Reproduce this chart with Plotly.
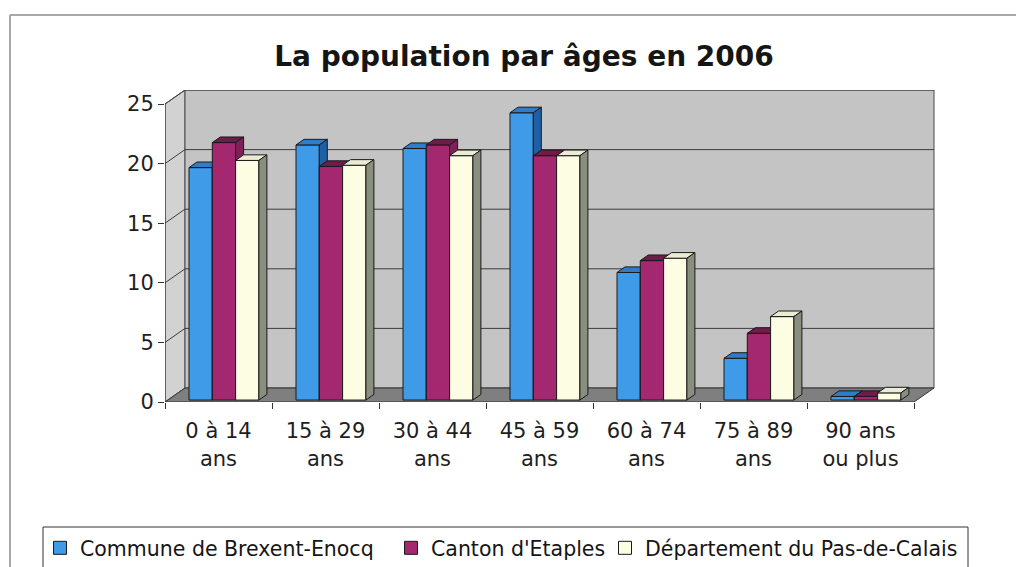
import plotly.graph_objects as go

# ---- data -------------------------------------------------------------
categories = [
    "0 à 14<br>ans", "15 à 29<br>ans", "30 à 44<br>ans", "45 à 59<br>ans",
    "60 à 74<br>ans", "75 à 89<br>ans", "90 ans<br>ou plus",
]
series_names = [
    "Commune de Brexent-Enocq",
    "Canton d'Etaples",
    "Département du Pas-de-Calais",
]
commune = [19.5, 21.4, 21.1, 24.1, 10.7, 3.5, 0.3]
canton = [21.6, 19.6, 21.4, 20.5, 11.7, 5.6, 0.3]
departement = [20.1, 19.7, 20.5, 20.5, 11.9, 7.0, 0.6]
y_tick_values = [0, 5, 10, 15, 20, 25]

# ---- pseudo-3D geometry (screen pixels -> data units) ------------------
W, H = 1016, 567
M_L, M_R, M_T, M_B = 165, 80, 90, 165
PLOT_W = W - M_L - M_R
PLOT_H = H - M_T - M_B
PX_PER_CAT = 107.0
PX_PER_UNIT = 11.92
DX = 20 / PX_PER_CAT       # wall depth, x units
DY = 14 / PX_PER_UNIT      # wall depth, y units
Y_TOP = 25

n = len(categories)
X0, X1 = -0.5, n - 0.5

BAR_OFF = 24 / PX_PER_CAT
BAR_W = 23.3 / PX_PER_CAT
BAR_D0 = 0.14              # front face depth (fraction of wall depth)
BAR_DEPTH = 0.40           # bar depth (fraction of wall depth)

FONT = "DejaVu Sans"

palettes = [
    dict(front="#3f9be8", top="#2f7cc8", side="#1f5fa6"),
    dict(front="#a3286f", top="#701c4b", side="#7f2058"),
    dict(front="#fdfde4", top="#ececd4", side="#8a8e7e"),
]
values = [commune, canton, departement]


def poly(xs, ys, fill, line="#1a1a1a", width=1):
    return go.Scatter(
        x=list(xs) + [xs[0]], y=list(ys) + [ys[0]],
        mode="lines", fill="toself", fillcolor=fill,
        line=dict(color=line, width=width),
        hoverinfo="skip", showlegend=False,
    )


def px_to_paper(px, py):
    return (px - M_L) / PLOT_W, (H - M_B - py) / PLOT_H


fig = go.Figure()

# left wall, back wall and floor
fig.add_trace(poly([X0, X0, X0 + DX, X0 + DX], [0, Y_TOP, Y_TOP + DY, DY],
                   "#d2d2d2", "#4a4a4a"))
fig.add_trace(poly([X0 + DX, X1 + DX, X1 + DX, X0 + DX],
                   [DY, DY, Y_TOP + DY, Y_TOP + DY], "#c4c4c4", "#4a4a4a"))
fig.add_trace(poly([X0, X1, X1 + DX, X0 + DX], [0, 0, DY, DY],
                   "#7f7f7f", "#333333"))

# gridlines on the left and back walls
gx, gy = [], []
for v in y_tick_values[1:]:
    gx += [X0, X0 + DX, X1 + DX, None]
    gy += [v, v + DY, v + DY, None]
fig.add_trace(go.Scatter(x=gx, y=gy, mode="lines",
                         line=dict(color="#3c3c3c", width=1),
                         hoverinfo="skip", showlegend=False))

# front value axis
fig.add_trace(go.Scatter(x=[X0, X0], y=[0, Y_TOP], mode="lines",
                         line=dict(color="#333333", width=1),
                         hoverinfo="skip", showlegend=False))

# columns: front, top and side faces, painted left to right
ddx = BAR_DEPTH * DX
ddy = BAR_DEPTH * DY
base = BAR_D0 * DY
for i in range(n):
    for s, (vals, pal) in enumerate(zip(values, palettes)):
        v = vals[i]
        xl = i - 0.5 + BAR_OFF + s * BAR_W
        xr = xl + BAR_W
        top = base + v
        fig.add_trace(poly([xl, xr, xr, xl], [base, base, top, top], pal["front"]))
        fig.add_trace(poly([xl, xr, xr + ddx, xl + ddx],
                           [top, top, top + ddy, top + ddy], pal["top"]))
        fig.add_trace(poly([xr, xr + ddx, xr + ddx, xr],
                           [base, base + ddy, top + ddy, top], pal["side"]))

# one legend per series, laid out in a single row inside a shared box
legend_text_x = [77, 428, 642]
legend_ids = ["legend", "legend2", "legend3"]
legend_layouts = {}
for name, pal, lid, tx in zip(series_names, palettes, legend_ids, legend_text_x):
    fig.add_trace(go.Scatter(
        x=[None], y=[None], mode="markers", name=name, legend=lid,
        marker=dict(symbol="square", size=13, color=pal["front"],
                    line=dict(color="#1a1a1a", width=1)),
    ))
    lx, ly = px_to_paper(tx - 37, 548)
    legend_layouts[lid] = dict(
        orientation="h", xref="paper", yref="paper",
        x=lx, xanchor="left", y=ly, yanchor="middle",
        borderwidth=0, bgcolor="rgba(0,0,0,0)",
        font=dict(family=FONT, size=20.5, color="#151515"),
        itemwidth=30, itemclick=False, itemdoubleclick=False,
    )

# thin frame along the top and left edges, and the legend box
fx0, fy0 = px_to_paper(10, 15)
fx1, _ = px_to_paper(W, 15)
_, fy1 = px_to_paper(10, H)
frame = dict(type="line", xref="paper", yref="paper",
             line=dict(color="#a8a8a8", width=2))
bx0, by0 = px_to_paper(43, 527)
bx1, by1 = px_to_paper(968, H + 4)

fig.update_layout(
    width=W, height=H, autosize=False,
    margin=dict(l=M_L, r=M_R, t=M_T, b=M_B, pad=0, autoexpand=False),
    paper_bgcolor="white", plot_bgcolor="white",
    font=dict(family=FONT, color="#1e1e1e"),
    title=dict(
        text="La population par âges en 2006",
        font=dict(family=FONT, size=28, weight="bold", color="#151515"),
        xref="container", yref="container",
        x=524 / W, xanchor="center", y=1 - 56 / H, yanchor="middle",
    ),
    xaxis=dict(
        range=[X0, X0 + PLOT_W / PX_PER_CAT], fixedrange=True,
        tickmode="array", tickvals=list(range(n)), ticktext=categories,
        ticks="outside", ticklen=10, tickcolor="rgba(0,0,0,0)",
        tickfont=dict(family=FONT, size=21, color="#1e1e1e"),
        showgrid=False, zeroline=False, showline=False,
        minor=dict(tickmode="array",
                   tickvals=[i - 0.5 for i in range(n + 1)],
                   ticks="outside", ticklen=6, tickcolor="#333333",
                   showgrid=False),
    ),
    yaxis=dict(
        range=[0, PLOT_H / PX_PER_UNIT], fixedrange=True,
        tickmode="array", tickvals=y_tick_values,
        ticks="outside", ticklen=6, tickcolor="#333333",
        tickfont=dict(family=FONT, size=21, color="#1e1e1e"),
        showgrid=False, zeroline=False, showline=False,
    ),
    shapes=[
        dict(frame, x0=fx0, y0=fy0, x1=fx1, y1=fy0),
        dict(frame, x0=fx0, y0=fy0, x1=fx0, y1=fy1),
        dict(type="rect", xref="paper", yref="paper",
             x0=bx0, y0=by0, x1=bx1, y1=by1,
             line=dict(color="#333333", width=1), fillcolor="rgba(0,0,0,0)"),
    ],
    showlegend=True,
    **legend_layouts,
)

fig.write_html("out.html")
